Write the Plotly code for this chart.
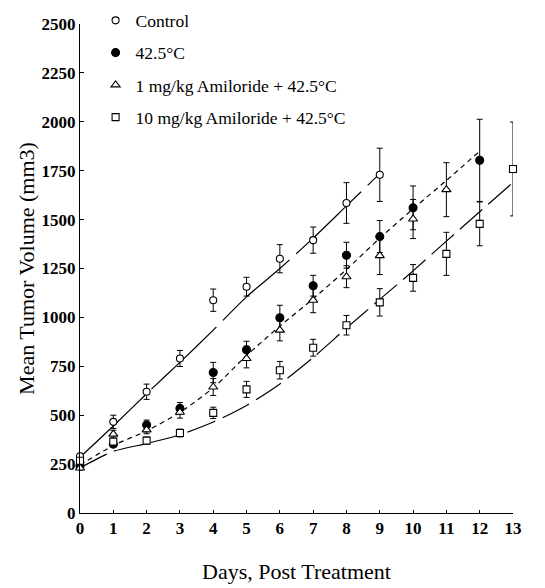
import plotly.graph_objects as go

# Days post treatment
days_control = [0, 1, 2, 3, 4, 5, 6, 7, 8, 9]
days_heat = [0, 1, 2, 3, 4, 5, 6, 7, 8, 9, 10, 12]
days_ami1 = [0, 1, 2, 3, 4, 5, 6, 7, 8, 9, 10, 11]
days_ami10 = [0, 1, 2, 3, 4, 5, 6, 7, 8, 9, 10, 11, 12, 13]

# Mean tumor volume (mm3) and error
control_mean = [290, 466, 620, 790, 1088, 1157, 1300, 1395, 1585, 1729]
control_err = [15, 34, 39, 41, 57, 48, 72, 67, 104, 136]

heat_mean = [240, 352, 450, 535, 718, 835, 998, 1162, 1318, 1413, 1560, 1803]
heat_err = [10, 15, 25, 30, 52, 43, 64, 53, 66, 82, 112, 210]

ami1_mean = [230, 403, 425, 515, 644, 790, 935, 1088, 1208, 1316, 1503, 1653]
ami1_err = [10, 20, 20, 30, 43, 48, 55, 64, 56, 97, 100, 138]

ami10_mean = [267, 365, 370, 409, 512, 632, 730, 845, 960, 1077, 1202, 1325, 1478, 1759]
ami10_err = [12, 15, 18, 20, 29, 41, 45, 43, 50, 70, 68, 110, 112, 240]

# Fitted growth curves
fit_control_days = [0, 1, 2, 3, 4, 5, 6, 7, 8, 9]
fit_control = [285, 445, 610, 770, 935, 1105, 1250, 1405, 1570, 1735]
fit_heat_days = [0, 1, 2, 3, 4, 5, 6, 7, 8, 9, 10, 11, 12]
fit_heat = [245, 345, 420, 515, 640, 805, 955, 1095, 1245, 1405, 1555, 1700, 1850]
fit_ami10_days = [0, 1, 2, 3, 4, 5, 6, 7, 8, 9, 10, 11, 12, 13]
fit_ami10 = [230, 315, 355, 400, 465, 550, 660, 795, 945, 1092, 1238, 1390, 1540, 1690]

legend_names = ["Control", "42.5°C", "1 mg/kg Amiloride + 42.5°C", "10 mg/kg Amiloride + 42.5°C"]
x_ticks = list(range(0, 14))
y_ticks = [0, 250, 500, 750, 1000, 1250, 1500, 1750, 2000, 2250, 2500]

SERIF = "Liberation Serif, Times New Roman, serif"

fig = go.Figure()

# Fit curves
for xs, ys, dash in [
    (fit_control_days, fit_control, "90px,9px"),
    (fit_heat_days, fit_heat, "5px,4px"),
    (fit_ami10_days, fit_ami10, "30px,8px"),
]:
    fig.add_trace(go.Scatter(
        x=xs, y=ys, mode="lines", showlegend=False, hoverinfo="skip",
        line=dict(color="black", width=1.2, dash=dash, shape="spline", smoothing=0.8),
    ))

err_style = dict(type="data", color="black", thickness=1, width=3)

series = [
    (days_control, control_mean, control_err, legend_names[0], "circle", 7, "white"),
    (days_heat, heat_mean, heat_err, legend_names[1], "circle", 8, "black"),
    (days_ami1, ami1_mean, ami1_err, legend_names[2], "triangle-up", 8, "white"),
    (days_ami10, ami10_mean, ami10_err, legend_names[3], "square", 7, "white"),
]

for i, (xs, ys, errs, name, sym, size, fill) in enumerate(series):
    fig.add_trace(go.Scatter(
        x=xs, y=ys, mode="markers", name=name, legendgroup=f"g{i}",
        error_y=dict(array=errs, **err_style),
        marker=dict(symbol=sym, size=size, color=fill,
                    line=dict(color="black", width=1.1)),
        cliponaxis=False,
    ))

fig.update_layout(
    width=545, height=588,
    margin=dict(l=80, r=32, t=24, b=75, autoexpand=False),
    paper_bgcolor="white", plot_bgcolor="white",
    font=dict(family=SERIF, color="black"),
    showlegend=True,
    legend=dict(
        x=0.036, y=1.044, xanchor="left", yanchor="top",
        font=dict(family=SERIF, size=17.5, color="black"),
        bgcolor="rgba(0,0,0,0)", tracegroupgap=6.5,
        itemclick=False,
    ),
    xaxis=dict(
        range=[0, 13], tickvals=x_ticks, ticktext=[str(t) for t in x_ticks],
        showgrid=False, zeroline=False, showline=True, linecolor="black", linewidth=1,
        ticks="inside", ticklen=3, tickcolor="black", automargin=False,
        tickfont=dict(family=SERIF, size=17, color="black", weight="bold"),
        title=dict(text="Days, Post Treatment", font=dict(family=SERIF, size=22), standoff=26),
    ),
    yaxis=dict(
        range=[0, 2500], tickvals=y_ticks, ticktext=[str(t) for t in y_ticks],
        showgrid=False, zeroline=False, showline=True, linecolor="black", linewidth=1,
        ticks="inside", ticklen=4, tickcolor="black", automargin=False,
        tickfont=dict(family=SERIF, size=17, color="black", weight="bold"),
        title=dict(text="Mean Tumor Volume (mm3)", font=dict(family=SERIF, size=22), standoff=0),
    ),
)

fig.write_html("out.html")
